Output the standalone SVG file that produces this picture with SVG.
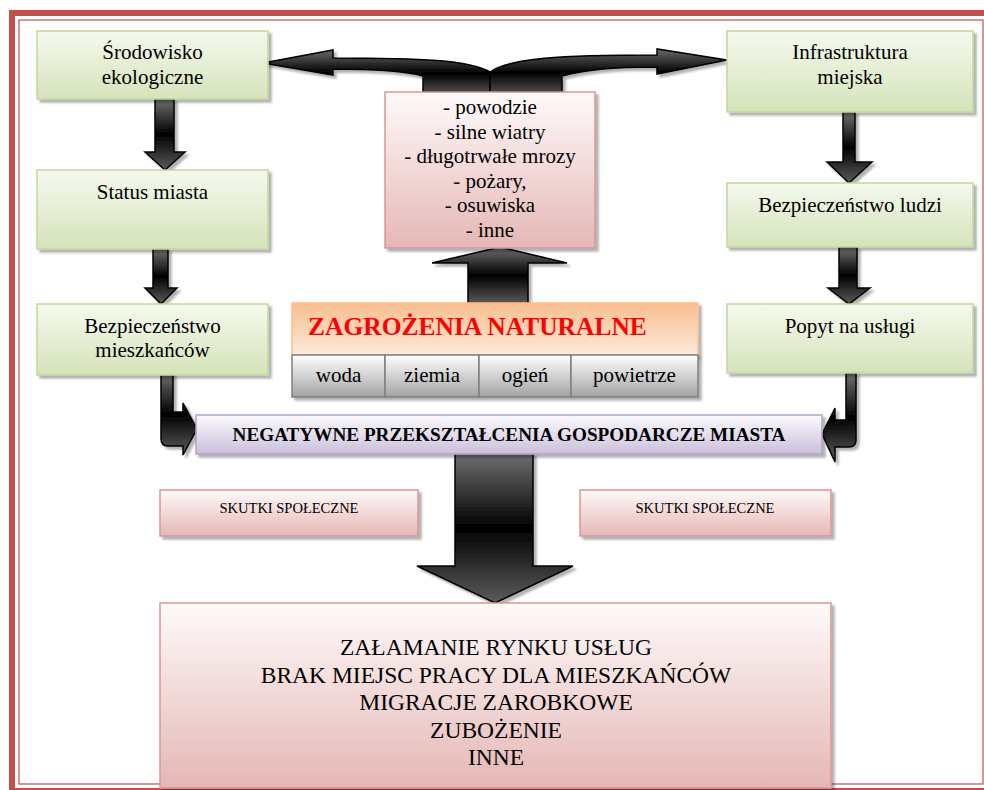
<svg xmlns="http://www.w3.org/2000/svg" width="984" height="790" viewBox="0 0 984 790" font-family="Liberation Serif, Times New Roman, serif">
<defs>
<linearGradient id="gGreen" x1="0" y1="0" x2="0" y2="1"><stop offset="0" stop-color="#f5f9ee"/><stop offset="1" stop-color="#d5e3ba"/></linearGradient>
<linearGradient id="gPink" x1="0" y1="0" x2="0" y2="1"><stop offset="0" stop-color="#fefafa"/><stop offset="1" stop-color="#e4b7b5"/></linearGradient>
<linearGradient id="gOrange" x1="0" y1="0" x2="0" y2="1"><stop offset="0" stop-color="#f9be8e"/><stop offset="1" stop-color="#fdeadb"/></linearGradient>
<linearGradient id="gGray" x1="0" y1="0" x2="0" y2="1"><stop offset="0" stop-color="#ffffff"/><stop offset="1" stop-color="#a3a3a3"/></linearGradient>
<linearGradient id="gLav" x1="0" y1="0" x2="0" y2="1"><stop offset="0" stop-color="#fcfbfe"/><stop offset="1" stop-color="#cabfda"/></linearGradient>
<linearGradient id="gArr" x1="0" y1="0" x2="0" y2="1"><stop offset="0" stop-color="#707070"/><stop offset="0.5" stop-color="#000000"/><stop offset="1" stop-color="#5c5c5c"/></linearGradient>
<linearGradient id="gArrTop" x1="0" y1="0" x2="0" y2="1"><stop offset="0" stop-color="#6a6a6a"/><stop offset="0.55" stop-color="#000000"/><stop offset="1" stop-color="#4a4a4a"/></linearGradient>
<filter id="sh" x="-10%" y="-10%" width="130%" height="140%"><feDropShadow dx="3" dy="3" stdDeviation="1" flood-color="#000" flood-opacity="0.3"/></filter>
</defs>
<style>
.c{text-anchor:middle;}
.green{fill:url(#gGreen);stroke:#c3d69b;stroke-width:1.5;filter:url(#sh);}
.pink{fill:url(#gPink);stroke:#d99694;stroke-width:1.5;filter:url(#sh);}
.orange{fill:url(#gOrange);stroke:#fac090;stroke-width:1.5;filter:url(#sh);}
.gray{fill:url(#gGray);stroke:#7f7f7f;stroke-width:1.5;}
.lav{fill:url(#gLav);stroke:#b2a1c7;stroke-width:1.5;filter:url(#sh);}
.arr{fill:url(#gArr);stroke:#000;stroke-width:1.5;stroke-linejoin:miter;filter:url(#sh);}
.arrT{fill:url(#gArrTop);stroke:#000;stroke-width:1.5;filter:url(#sh);}
</style>
<rect width="984" height="790" fill="#ffffff"/>
<g id="frame" fill="none" stroke="#c0504d">
<rect x="12" y="13" width="1000" height="778" stroke-width="6"/>
<rect x="19" y="20" width="964" height="764" stroke-width="1.2"/>
</g>

<g id="connectors">
<path class="arrT" d="M490,92 L423,92 L423,76 C405,71 380,69 333,69 L333,75 L263,63 L333,50 L333,58 C420,58 470,60 490,72 Z"/>
<path class="arrT" d="M490,92 L562,92 L562,76 C585,70 610,67 657,67 L657,74 L727,60 L657,49 L657,55 C560,55 510,58 490,72 Z"/>
<path class="arr" d="M468,304 L528,304 L528,263 L567,263 L500,247 L432,263 L468,263 Z"/>
<path class="arr" d="M155,99 L174,99 L174,152 L185,152 L165,170 L145,152 L155,152 Z"/>
<path class="arr" d="M153,249 L168,249 L168,288 L177,288 L161,304 L145,288 L153,288 Z"/>
<path class="arr" d="M843,112 L855,112 L855,162 L872,162 L849,183 L827,162 L843,162 Z"/>
<path class="arr" d="M839,247 L857,247 L857,288 L870,288 L849,304 L828,288 L839,288 Z"/>
<path class="arr" d="M161,373 L173,373 L173,412 L183,412 L183,403 L197,429 L183,455 L183,446 L168,446 Q161,446 161,439 Z"/>
<path class="arr" d="M856,373 L846,373 L846,420 L835,420 L835,408 L822,434 L835,462 L835,447 L849,447 Q856,447 856,440 Z"/>
<path class="arr" d="M455,453 L533,453 L533,566 L573,566 L495,603 L417,566 L455,566 Z"/>
</g>

<g id="n-srodowisko">
<rect class="green" x="37" y="31" width="231" height="68"/>
<text class="c" x="152.5" y="59" font-size="21">Środowisko</text>
<text class="c" x="152.5" y="84" font-size="21">ekologiczne</text>
</g>
<g id="n-status">
<rect class="green" x="37" y="170" width="231" height="79"/>
<text class="c" x="152.5" y="199" font-size="21">Status miasta</text>
</g>
<g id="n-bezp-mieszk">
<rect class="green" x="37" y="304" width="231" height="71"/>
<text class="c" x="152.5" y="333" font-size="21">Bezpieczeństwo</text>
<text class="c" x="152.5" y="357" font-size="21">mieszkańców</text>
</g>
<g id="n-infra">
<rect class="green" x="727" y="31" width="246" height="81"/>
<text class="c" x="850" y="59" font-size="21">Infrastruktura</text>
<text class="c" x="850" y="84" font-size="21">miejska</text>
</g>
<g id="n-bezp-ludzi">
<rect class="green" x="727" y="183" width="246" height="64"/>
<text class="c" x="850" y="212" font-size="21">Bezpieczeństwo ludzi</text>
</g>
<g id="n-popyt">
<rect class="green" x="727" y="304" width="246" height="69"/>
<text class="c" x="850" y="333" font-size="21">Popyt na usługi</text>
</g>
<g id="n-lista">
<rect class="pink" x="385" y="92" width="210" height="156"/>
<text class="c" x="490" y="114" font-size="21">- powodzie</text>
<text class="c" x="490" y="138.5" font-size="21">- silne wiatry</text>
<text class="c" x="490" y="163" font-size="21">- długotrwałe mrozy</text>
<text class="c" x="490" y="187.5" font-size="21">- pożary,</text>
<text class="c" x="490" y="212" font-size="21">- osuwiska</text>
<text class="c" x="490" y="236.5" font-size="21">- inne</text>
</g>
<g id="n-zagrozenia">
<rect class="orange" x="292" y="303" width="406" height="52"/>
<text x="308" y="335" font-size="25.5" font-weight="bold" fill="#ff0000">ZAGROŻENIA NATURALNE</text>
<g filter="url(#sh)">
<rect class="gray" x="292" y="355" width="93" height="42"/>
<rect class="gray" x="385" y="355" width="94" height="42"/>
<rect class="gray" x="479" y="355" width="92" height="42"/>
<rect class="gray" x="571" y="355" width="127" height="42"/>
</g>
<text class="c" x="338.5" y="382" font-size="21">woda</text>
<text class="c" x="432" y="382" font-size="21">ziemia</text>
<text class="c" x="525" y="382" font-size="21">ogień</text>
<text class="c" x="634.5" y="382" font-size="21">powietrze</text>
</g>
<g id="n-negatywne">
<rect class="lav" x="196" y="415" width="626" height="39"/>
<text class="c" x="509" y="441" font-size="19.2" font-weight="bold">NEGATYWNE PRZEKSZTAŁCENIA GOSPODARCZE MIASTA</text>
</g>
<g id="n-skutki-l">
<rect class="pink" x="160" y="490" width="258" height="46"/>
<text class="c" x="289" y="513" font-size="14.5">SKUTKI SPOŁECZNE</text>
</g>
<g id="n-skutki-r">
<rect class="pink" x="580" y="490" width="251" height="46"/>
<text class="c" x="705" y="513" font-size="14.5">SKUTKI SPOŁECZNE</text>
</g>
<g id="n-skutki">
<rect class="pink" x="160" y="603" width="671" height="185"/>
<text class="c" x="496" y="655" font-size="23.5">ZAŁAMANIE RYNKU USŁUG</text>
<text class="c" x="496" y="683" font-size="23.5">BRAK MIEJSC PRACY DLA MIESZKAŃCÓW</text>
<text class="c" x="496" y="710" font-size="23.5">MIGRACJE ZAROBKOWE</text>
<text class="c" x="496" y="738" font-size="23.5">ZUBOŻENIE</text>
<text class="c" x="496" y="765" font-size="23.5">INNE</text>
</g>
</svg>
